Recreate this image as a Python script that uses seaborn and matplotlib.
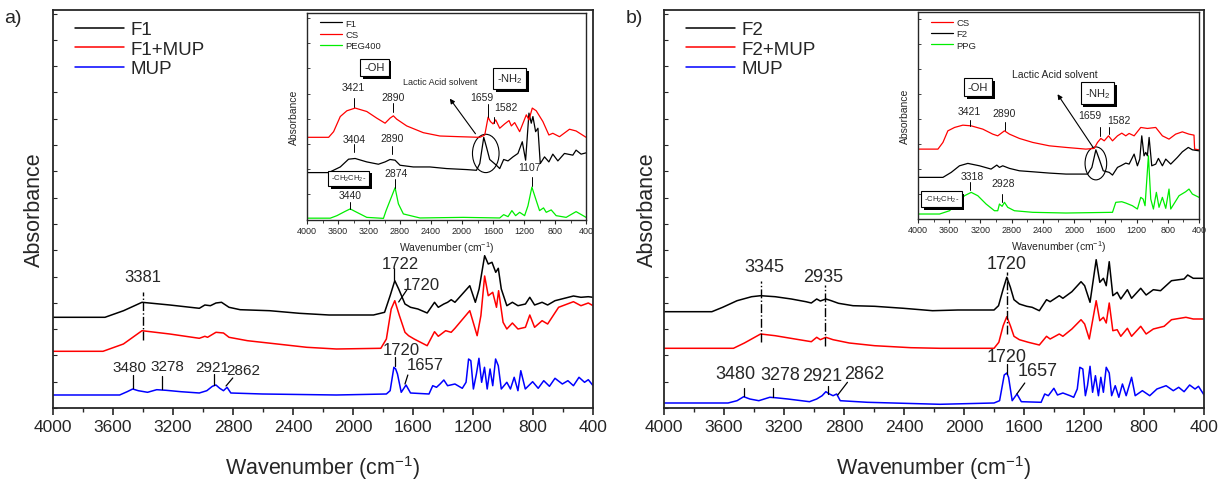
import numpy as np
import pandas as pd
import seaborn as sns
import matplotlib.pyplot as plt
import matplotlib.patheffects as pe
from matplotlib.patches import Ellipse
from matplotlib.ticker import MultipleLocator

# ---- panel a main spectra (wavenumber, absorbance a.u.) ----
a_f1_wn = [4000, 3654, 3530, 3407, 3222, 3025, 2988, 2951, 2914, 2877, 2827, 2753, 2556, 2358, 2160, 1864, 1790,
           1753, 1722, 1696, 1654, 1617, 1568, 1506, 1457, 1432, 1395, 1370, 1346, 1321, 1222, 1185, 1160, 1123,
           1099, 1074, 1049, 1032, 1012, 975, 938, 901, 851, 822, 790, 740, 703, 654, 531, 481, 432, 400]
a_f1_ab = [90.7, 90.7, 97.3, 105.7, 103, 99.7, 103, 102.3, 105, 105.7, 100.7, 98.3, 97.3, 94.7, 93, 93, 95.7,
           112.3, 127.3, 119, 104, 100.7, 99, 95, 105.7, 100.7, 104, 105.7, 108.3, 105.7, 122.3, 105.7, 119, 152.3,
           144, 145.7, 135.7, 139.7, 119, 102.3, 105.7, 102.3, 104, 110.7, 103, 105.7, 103, 107.3, 112, 110.7,
           111.3, 110.7]

a_f1mup_wn = [4000, 3667, 3531, 3407, 3222, 3025, 2988, 2970, 2914, 2864, 2827, 2704, 2506, 2309, 2111, 1815, 1778,
              1746, 1722, 1691, 1654, 1630, 1593, 1506, 1457, 1432, 1383, 1346, 1321, 1222, 1173, 1148, 1123, 1099,
              1069, 1044, 1030, 1000, 975, 938, 901, 851, 822, 790, 740, 703, 630, 531, 481, 432, 400]
a_f1mup_ab = [56.7, 56.7, 64, 77.3, 74, 69.7, 71.7, 70.7, 75.7, 75, 70.7, 67.3, 64, 60.7, 59, 59.7, 69,
              99, 107.3, 92.3, 75.7, 72.3, 69, 62.3, 76.3, 71.7, 77.3, 75.7, 79.7, 97.3, 72.3, 92.3, 132, 112.3,
              115.7, 100.7, 117.3, 85.7, 79, 85, 79, 80.7, 93, 80.7, 87.3, 84, 100.7, 106.3, 102.3, 105, 102.3]

a_mup_wn = [4000, 3556, 3506, 3469, 3432, 3370, 3309, 3247, 3148, 3025, 2975, 2938, 2914, 2889, 2864, 2840, 2815,
            2605, 2111, 1778, 1753, 1728, 1716, 1704, 1679, 1647, 1617, 1494, 1469, 1444, 1420, 1395, 1370, 1321,
            1272, 1247, 1230, 1215, 1198, 1178, 1161, 1143, 1124, 1106, 1087, 1069, 1050, 1032, 1012, 975, 951,
            926, 901, 882, 852, 803, 766, 729, 691, 654, 605, 568, 531, 494, 457, 432, 400]
a_mup_ab = [13, 13, 16.3, 19, 17.3, 15.7, 18.3, 17.7, 16.3, 15, 17.3, 21.7, 23, 19.7, 17.3, 20.7, 15,
            14, 13, 14, 17.3, 40.7, 39, 34, 15.7, 23, 15, 14, 22.3, 20.7, 24, 28, 22.3, 24,
            19.7, 25.7, 49, 47.3, 19, 34, 49.7, 25.7, 40.7, 19, 39, 22.3, 49, 42.3, 19, 25.7, 19,
            30.7, 17.3, 37.3, 19, 26.3, 19.7, 27.3, 21.7, 29.7, 24, 27.3, 22.3, 30.7, 25.7, 28.3, 22.3]

# ---- panel b main spectra ----
b_f2_wn = [4000, 3681, 3609, 3513, 3416, 3356, 3259, 3151, 3054, 3018, 2982, 2958, 2921, 2885, 2837, 2740, 2596,
           2403, 2210, 2041, 1800, 1770, 1739, 1715, 1691, 1667, 1631, 1582, 1546, 1498, 1450, 1426, 1365, 1341,
           1281, 1220, 1196, 1160, 1119, 1095, 1071, 1052, 1032, 1008, 979, 955, 911, 883, 822, 786, 738, 690,
           617, 533, 509, 472, 400]
b_f2_ab = [96.3, 96.3, 100.7, 107.3, 111.3, 112.3, 111.3, 109, 106.3, 105, 109, 107, 109, 107.3, 104.7, 102.3, 101.7,
           99.7, 97.3, 98, 98, 102.3, 119, 130.7, 120.7, 108.3, 104, 101.7, 100.7, 97.3, 108.3, 106.3, 112.3, 109.7,
           116.3, 126.3, 122.3, 105.7, 148.3, 125.7, 129.7, 122.3, 146.3, 112.3, 115.7, 109, 118.3, 109.7, 119.7,
           113, 118.3, 117.3, 127.3, 129, 133, 129.7, 129.7]

b_f2mup_wn = [4000, 3537, 3464, 3356, 3259, 3127, 3018, 2982, 2958, 2921, 2873, 2765, 2596, 2354, 2161, 1800, 1768,
              1739, 1715, 1691, 1667, 1631, 1571, 1498, 1450, 1426, 1365, 1341, 1281, 1220, 1196, 1165, 1119, 1095,
              1071, 1052, 1032, 1008, 979, 955, 911, 883, 822, 786, 738, 666, 617, 521, 472, 400]
b_f2mup_ab = [59.7, 59.7, 65, 74, 72.3, 69, 66.3, 70.7, 68.3, 70.7, 68.3, 65, 62.3, 60.3, 59.7, 59.7, 65.7,
              82.3, 91.3, 82.3, 71.7, 68.3, 65.7, 63, 71.7, 69, 74, 71.7, 79, 88.3, 84, 69, 107.3, 87.3,
              90.7, 85, 105, 77.3, 78.3, 71.7, 79.7, 71.7, 81.7, 74, 79, 81.7, 88.3, 90.7, 89, 89]

b_mup_wn = [4000, 3573, 3513, 3469, 3428, 3368, 3295, 3259, 3175, 3030, 2982, 2946, 2921, 2897, 2873, 2849, 2825,
            2644, 2161, 1800, 1763, 1732, 1715, 1703, 1679, 1647, 1618, 1486, 1462, 1438, 1401, 1377, 1341, 1293,
            1269, 1245, 1228, 1208, 1191, 1177, 1160, 1143, 1124, 1104, 1088, 1071, 1052, 1032, 1016, 992, 968,
            944, 919, 883, 859, 811, 762, 714, 653, 605, 569, 533, 496, 460, 437, 400]
b_mup_ab = [5, 5, 7.3, 11.3, 9, 7.3, 10.7, 10.3, 9, 6.3, 9, 12.3, 16.3, 14, 12.3, 14, 7.3,
            5.7, 3.7, 5, 7.3, 33, 35, 30.7, 7.3, 14, 6.3, 5.7, 14, 12.3, 19.7, 13, 15, 12.3,
            10.7, 19, 40.7, 39, 12.3, 22.3, 41.7, 15.7, 32.3, 12.3, 30.7, 15.7, 40.7, 35, 12.3, 22.3, 10.7,
            24, 12.3, 30.7, 12.3, 17.3, 12.3, 19, 22.3, 17.3, 20.7, 16.3, 23, 19, 21.7, 13]

# ---- inset a (F1, CS, PEG400) ----
ia_cs_wn = [4000, 3721, 3657, 3571, 3486, 3379, 3229, 3100, 2993, 2929, 2886, 2843, 2714, 2500, 2286, 2029, 1771,
            1707, 1664, 1634, 1600, 1566, 1514, 1450, 1394, 1364, 1321, 1257, 1171, 1137, 1094, 1043, 957, 880,
            829, 743, 614, 529, 400]
ia_cs_ab = [81.7, 81.7, 87.3, 102.3, 108, 110.7, 107.3, 100.7, 95.7, 100.7, 103, 99.7, 93, 86.3, 83, 82.3, 81.7,
            84, 101.7, 97.3, 95, 99, 90.7, 95, 98.3, 93, 96.3, 87.3, 104, 99, 110.7, 108, 97.3, 84,
            85.7, 82.3, 89.7, 88, 81.7]
ia_f1_wn = [4000, 3721, 3571, 3464, 3379, 3229, 3079, 2993, 2929, 2864, 2800, 2629, 2414, 2200, 1943, 1814, 1771,
            1720, 1686, 1643, 1557, 1514, 1463, 1407, 1343, 1279, 1223, 1180, 1137, 1107, 1086, 1051, 1021, 991,
            936, 880, 829, 764, 679, 571, 529, 464, 400]
ia_f1_ab = [46.7, 46.7, 52.3, 60, 60.7, 57.3, 55, 57.3, 59.7, 59, 54, 52.3, 52.3, 50.7, 49.7, 49, 55.7,
            81.7, 72.3, 59.7, 54, 50.7, 59.7, 58.3, 62.3, 65.7, 77.3, 59, 105.7, 95.7, 102.3, 87.3, 90.7, 55.7,
            62.3, 57.3, 65, 58.3, 65.7, 64, 69, 65, 66.3]
ia_peg_wn = [4000, 3700, 3614, 3507, 3443, 3357, 3229, 3014, 2980, 2929, 2864, 2821, 2757, 2543, 1986, 1514, 1463,
             1407, 1357, 1309, 1257, 1193, 1150, 1099, 1043, 1000, 949, 914, 850, 786, 657, 529, 400]
ia_peg_ab = [1.5, 1.5, 4, 8.3, 10.7, 7.3, 2.3, 1.3, 9, 19, 31.7, 15.7, 5.7, 1.7, 2.3, 1.7, 5,
             3, 9, 4, 7.3, 4, 13.7, 32.3, 19, 9, 11.7, 7.3, 9.7, 4, 2.3, 8, 2.3]

# ---- inset b (CS, F2, PPG) ----
ib_cs_wn = [4000, 3744, 3680, 3617, 3531, 3425, 3318, 3169, 3042, 2978, 2892, 2828, 2701, 2530, 2317, 2104, 1849,
            1742, 1700, 1657, 1614, 1559, 1508, 1444, 1389, 1338, 1295, 1231, 1146, 1061, 954, 869, 784, 699,
            613, 528, 464, 456, 400]
ib_cs_ab = [70, 70, 76.7, 88.3, 91.7, 94, 93.3, 90, 85, 83.3, 88.3, 85, 80.7, 76.7, 73.3, 71.7, 70,
            70.7, 76.7, 80.7, 78.3, 83.3, 78.3, 83.3, 86, 83.3, 85.7, 83.3, 91.7, 90.7, 91.7, 83.3, 80, 85,
            87.3, 85, 84, 70, 69.3]
ib_f2_wn = [4000, 3680, 3574, 3468, 3361, 3212, 3063, 2990, 2956, 2914, 2828, 2701, 2530, 2317, 2104, 1827, 1772,
            1721, 1678, 1627, 1550, 1508, 1444, 1402, 1338, 1295, 1231, 1189, 1159, 1133, 1104, 1082, 1061, 1039,
            1005, 954, 920, 869, 826, 762, 677, 613, 537, 485, 400]
ib_f2_ab = [41.7, 41.7, 46.7, 53.3, 55.7, 53.3, 50, 54, 51.7, 53.3, 50.7, 48.3, 47.3, 46, 45, 45, 51.7,
            69.3, 60, 48.3, 46.7, 44, 51.7, 53.3, 56, 55, 65, 53.3, 60, 83.3, 63.3, 66.7, 63.3, 81.7,
            53.3, 55, 60.7, 53.3, 60, 55, 61.7, 67.3, 71.7, 69.3, 68.3]
ib_ppg_wn = [4000, 3723, 3595, 3489, 3404, 3318, 3233, 3127, 3020, 2978, 2956, 2922, 2892, 2850, 2765, 2530, 2104,
             1508, 1466, 1389, 1338, 1253, 1189, 1146, 1116, 1091, 1048, 1018, 984, 946, 912, 869, 826, 784,
             762, 656, 571, 528, 485, 400]
ib_ppg_ab = [5, 5, 8.3, 16.7, 23.3, 26.7, 23.3, 15, 8.3, 8.3, 15, 12.7, 16.7, 11.7, 8.3, 6.7, 6,
             6.7, 16.7, 17.3, 16, 13.3, 10, 21.7, 20, 13.3, 63.3, 20, 10, 26.7, 11.7, 21.7, 10.7, 30,
             10, 23.3, 27.3, 30, 25, 21.7]

sns.set_style('ticks')
plt.rcParams['font.family'] = ['Liberation Sans', 'DejaVu Sans']
plt.rcParams['mathtext.fontset'] = 'custom'
plt.rcParams['mathtext.rm'] = 'Liberation Sans'
plt.rcParams['mathtext.it'] = 'Liberation Sans'
plt.rcParams['mathtext.default'] = 'regular'
plt.rcParams['axes.linewidth'] = 1.3

fig = plt.figure(figsize=(12.31, 4.81), dpi=100)
ax_a = fig.add_axes([0.0431, 0.1497, 0.4387, 0.8274])
ax_b = fig.add_axes([0.5394, 0.1497, 0.4387, 0.8274])
in_a = fig.add_axes([0.2494, 0.5412, 0.2267, 0.4297])
in_b = fig.add_axes([0.7457, 0.5426, 0.2283, 0.4297])


def spec(ax, wn, ab, color, label, lw=1.1):
    df = pd.DataFrame({'wn': wn, 'ab': ab})
    sns.lineplot(data=df, x='wn', y='ab', ax=ax, color=color, lw=lw, estimator=None, sort=False, label=label)


def tick(ax, x, y0, y1, lw=0.9):
    xs = list(x) if isinstance(x, tuple) else [x, x]
    ax.plot(xs, [y0, y1], color='k', lw=lw)


def boxed(ax, x, y, s, fs):
    t = ax.text(x, y, s, ha='center', va='center', fontsize=fs, zorder=6,
                bbox=dict(boxstyle='square,pad=0.35', fc='w', ec='k', lw=0.8))
    t.get_bbox_patch().set_path_effects([
        pe.SimplePatchShadow(offset=(2, -2), shadow_rgbFace='k', alpha=1.0), pe.Normal()])


def style_main(ax, letter, x_letter, pad_y):
    ax.set_xlim(4000, 400)
    ax.set_ylim(0, 398)
    ax.xaxis.set_major_locator(MultipleLocator(400))
    ax.xaxis.set_minor_locator(MultipleLocator(200))
    ax.yaxis.set_major_locator(MultipleLocator(26.3))
    ax.set_yticklabels([])
    ax.tick_params(axis='x', which='major', direction='out', length=5, width=1.2, labelsize=12.5, pad=3)
    ax.tick_params(axis='x', which='minor', direction='out', length=3, width=1)
    ax.tick_params(axis='y', which='major', direction='in', length=3, width=0.8, labelleft=False)
    ax.set_xlabel('Wavenumber (cm$^{-1}$)', fontsize=15.5, labelpad=14)
    ax.set_ylabel('Absorbance', fontsize=15.5, labelpad=pad_y)
    ax.legend(loc='upper left', bbox_to_anchor=(0.02, 1.0), frameon=False, fontsize=13.5,
              handlelength=2.6, handletextpad=0.35, labelspacing=0.12, borderaxespad=0.2)
    fig.text(x_letter, 0.952, letter, fontsize=14)


def style_inset(ax, top):
    ax.set_facecolor('white')
    ax.set_xlim(4000, 400)
    ax.set_ylim(0, top)
    ax.xaxis.set_major_locator(MultipleLocator(400))
    ax.xaxis.set_minor_locator(MultipleLocator(200))
    ax.yaxis.set_major_locator(MultipleLocator(25))
    ax.set_yticklabels([])
    ax.tick_params(axis='x', which='major', direction='out', length=3, width=0.8, labelsize=6.5, pad=1.5)
    ax.tick_params(axis='x', which='minor', direction='out', length=2, width=0.6)
    ax.tick_params(axis='y', direction='in', length=2, width=0.6, labelleft=False)
    ax.set_xlabel('Wavenumber (cm$^{-1}$)', fontsize=7.5, labelpad=3)
    ax.set_ylabel('Absorbance', fontsize=7.5, labelpad=6)
    ax.legend(loc='upper left', bbox_to_anchor=(0.025, 1.0), frameon=False, fontsize=6.8,
              handlelength=2.4, handletextpad=0.3, labelspacing=0.25, borderaxespad=0.2)
    for s in ax.spines.values():
        s.set_linewidth(1.0)


# ---------------- panel a ----------------
spec(ax_a, a_f1_wn, a_f1_ab, 'black', 'F1')
spec(ax_a, a_f1mup_wn, a_f1mup_ab, 'red', 'F1+MUP')
spec(ax_a, a_mup_wn, a_mup_ab, 'blue', 'MUP')
style_main(ax_a, 'a)', 0.003, 6)

ax_a.plot([3400, 3400], [68, 116], color='k', lw=1, ls='-.')
fs_a = 12
ax_a.text(3400, 132, '3381', ha='center', va='center', fontsize=fs_a)
ax_a.text(1687, 145, '1722', ha='center', va='center', fontsize=fs_a)
tick(ax_a, 1728, 128, 140)
ax_a.text(1543, 124, '1720', ha='center', va='center', fontsize=fs_a)
tick(ax_a, (1696, 1642), 106, 118)
ax_a.text(1679, 58, '1720', ha='center', va='center', fontsize=fs_a)
tick(ax_a, 1722, 42, 51)
ax_a.text(1519, 43, '1657', ha='center', va='center', fontsize=fs_a)
tick(ax_a, (1654, 1635), 24, 33)
fs_a2 = 11
ax_a.text(3494, 41, '3480', ha='center', va='center', fontsize=fs_a2)
tick(ax_a, 3469, 20, 33)
ax_a.text(3235, 42, '3278', ha='center', va='center', fontsize=fs_a2)
tick(ax_a, 3277, 19, 32)
ax_a.text(2938, 41, '2921', ha='center', va='center', fontsize=fs_a2)
tick(ax_a, 2926, 23, 34)
ax_a.text(2733, 38, '2862', ha='center', va='center', fontsize=fs_a2)
tick(ax_a, (2847, 2802), 22, 30)

# ---------------- panel b ----------------
spec(ax_b, b_f2_wn, b_f2_ab, 'black', 'F2')
spec(ax_b, b_f2mup_wn, b_f2mup_ab, 'red', 'F2+MUP')
spec(ax_b, b_mup_wn, b_mup_ab, 'blue', 'MUP')
style_main(ax_b, 'b)', 0.508, 4)

ax_b.plot([3356, 3356], [65.7, 127.3], color='k', lw=1, ls='-.')
ax_b.plot([2926, 2926], [61.7, 123], color='k', lw=1, ls='-.')
ax_b.plot([1715, 1715], [74, 135.7], color='k', lw=1, ls='-.')
fs_b = 13
ax_b.text(3332, 142, '3345', ha='center', va='center', fontsize=fs_b)
ax_b.text(2938, 132, '2935', ha='center', va='center', fontsize=fs_b)
ax_b.text(1715, 145, '1720', ha='center', va='center', fontsize=fs_b)
ax_b.text(1715, 51, '1720', ha='center', va='center', fontsize=fs_b)
tick(ax_b, 1715, 34, 44)
ax_b.text(1510, 37, '1657', ha='center', va='center', fontsize=fs_b)
tick(ax_b, (1648, 1595), 14, 25)
ax_b.text(3525, 34, '3480', ha='center', va='center', fontsize=fs_b)
tick(ax_b, 3469, 12, 20)
ax_b.text(3223, 33, '3278', ha='center', va='center', fontsize=fs_b)
tick(ax_b, 3271, 11, 19.5)
ax_b.text(2946, 32, '2921', ha='center', va='center', fontsize=fs_b)
tick(ax_b, 2909, 14, 21.5)
ax_b.text(2668, 34, '2862', ha='center', va='center', fontsize=fs_b)
tick(ax_b, (2842, 2777), 13, 25.7)

# ---------------- inset a ----------------
spec(in_a, ia_f1_wn, ia_f1_ab, 'black', 'F1', lw=0.9)
spec(in_a, ia_cs_wn, ia_cs_ab, 'red', 'CS', lw=0.9)
spec(in_a, ia_peg_wn, ia_peg_ab, '#00ee00', 'PEG400', lw=0.9)
style_inset(in_a, 205)
fi = 7.5
in_a.text(3400, 132, '3421', ha='center', va='center', fontsize=fi)
tick(in_a, 3391, 111.7, 120.7, lw=0.7)
in_a.text(2886, 122, '2890', ha='center', va='center', fontsize=fi)
tick(in_a, 2886, 107.3, 115.7, lw=0.7)
in_a.text(1745, 122, '1659', ha='center', va='center', fontsize=fi)
tick(in_a, 1664, 101.7, 115, lw=0.7)
in_a.text(1430, 112, '1582', ha='center', va='center', fontsize=fi)
tick(in_a, 1591, 96.3, 102.3, lw=0.7)
in_a.text(3391, 80, '3404', ha='center', va='center', fontsize=fi)
tick(in_a, 3391, 67.3, 75, lw=0.7)
in_a.text(2903, 81, '2890', ha='center', va='center', fontsize=fi)
tick(in_a, 2903, 65, 73, lw=0.7)
in_a.text(2851, 46, '2874', ha='center', va='center', fontsize=fi)
tick(in_a, 2864, 31.7, 40, lw=0.7)
in_a.text(3443, 24, '3440', ha='center', va='center', fontsize=fi)
tick(in_a, 3443, 10.7, 18, lw=0.7)
in_a.text(1129, 52, '1107', ha='center', va='center', fontsize=fi)
tick(in_a, 1099, 33.3, 42.3, lw=0.7)
boxed(in_a, 3130, 151, '-OH', 8)
boxed(in_a, 1386, 140, '-NH$_2$', 8)
boxed(in_a, 3464, 41, '-CH$_2$CH$_2$-', 5.5)
in_a.text(2286, 137, 'Lactic Acid solvent', ha='center', va='center', fontsize=6.5)
in_a.add_patch(Ellipse((1694, 65.7), 343, 38, fill=False, ec='k', lw=0.8))
in_a.annotate('', xy=(2179, 122.3), xytext=(1806, 83),
              arrowprops=dict(arrowstyle='-|>', lw=0.8, color='k', mutation_scale=7))

# ---------------- inset b ----------------
spec(in_b, ib_cs_wn, ib_cs_ab, 'red', 'CS', lw=0.9)
spec(in_b, ib_f2_wn, ib_f2_ab, 'black', 'F2', lw=0.9)
spec(in_b, ib_ppg_wn, ib_ppg_ab, '#00ee00', 'PPG', lw=0.9)
style_inset(in_b, 207)
in_b.text(3340, 108, '3421', ha='center', va='center', fontsize=fi)
tick(in_b, 3331, 92.7, 99.3, lw=0.7)
in_b.text(2892, 106, '2890', ha='center', va='center', fontsize=fi)
tick(in_b, 2888, 89, 97.3, lw=0.7)
in_b.text(1800, 104, '1659', ha='center', va='center', fontsize=fi)
tick(in_b, 1670, 83.3, 91.7, lw=0.7)
in_b.text(1420, 99, '1582', ha='center', va='center', fontsize=fi)
tick(in_b, 1559, 85, 92.3, lw=0.7)
in_b.text(3306, 43, '3318', ha='center', va='center', fontsize=fi)
tick(in_b, 3327, 29.3, 37.3, lw=0.7)
in_b.text(2914, 36, '2928', ha='center', va='center', fontsize=fi)
tick(in_b, 2926, 16.7, 25, lw=0.7)
boxed(in_b, 3233, 132, '-OH', 8)
boxed(in_b, 1700, 126, '-NH$_2$', 8)
boxed(in_b, 3702, 20, '-CH$_2$CH$_2$-', 5.5)
in_b.text(2253, 145, 'Lactic Acid solvent', ha='center', va='center', fontsize=7.5)
in_b.add_patch(Ellipse((1721, 55.7), 277, 33, fill=False, ec='k', lw=0.8))
in_b.annotate('', xy=(2232, 127.3), xytext=(1742, 70),
              arrowprops=dict(arrowstyle='-|>', lw=0.8, color='k', mutation_scale=7))

fig.savefig('out.png', dpi=100)
